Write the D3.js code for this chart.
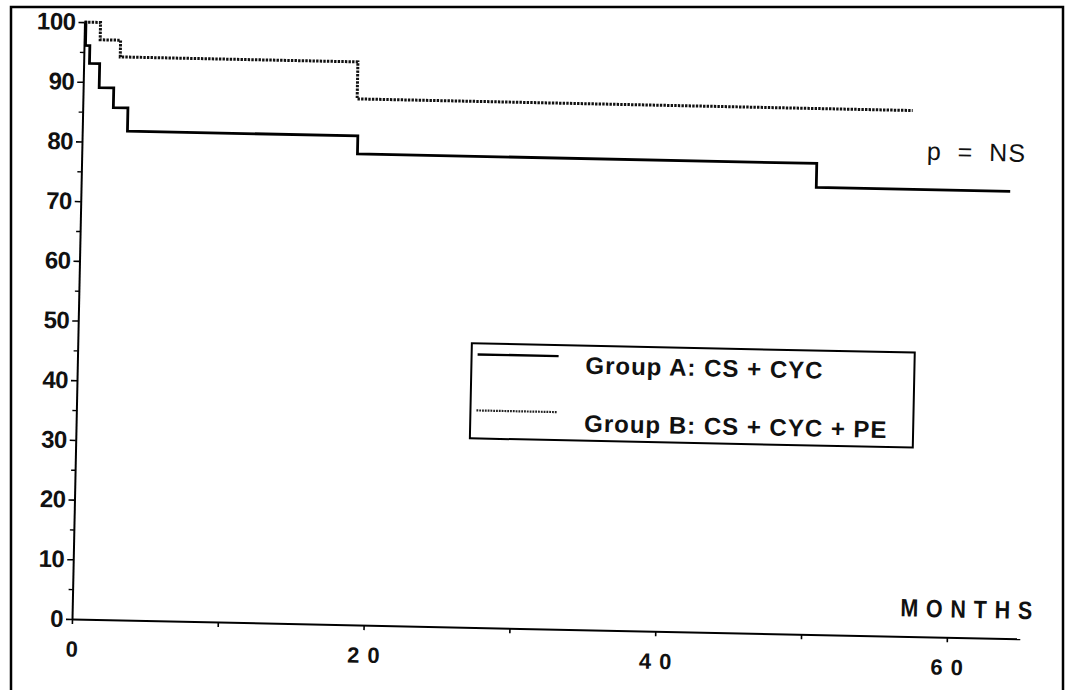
<!DOCTYPE html>
<html>
<head>
<meta charset="utf-8">
<script src="https://cdn.jsdelivr.net/npm/d3@7/dist/d3.min.js"></script>
<style>
  html, body { margin: 0; padding: 0; background: #fff; }
  svg { display: block; font-family: "Liberation Sans", Arial, sans-serif; }
</style>
</head>
<body>
<svg id="chart" width="1068" height="690"></svg>
<script>
// Kaplan-Meier survival estimates (months, % surviving)
const groupATime = [0, 0.1, 0.4, 1.1, 2.1, 3.1, 18.9, 50.4, 63.7];
const groupASurv = [100, 96.1, 93.1, 89.1, 85.8, 81.9, 78.9, 74.9, 74.9];
const groupBTime = [0, 1.1, 2.5, 18.8, 56.9];
const groupBSurv = [100, 97.1, 94.3, 88.1, 88.1];

const seriesNames = ["Group A: CS + CYC", "Group B: CS + CYC + PE"];
const xTickValues = [0, 10, 20, 30, 40, 50, 60];
const xLabelled = [0, 20, 40, 60];
const yTickValues = [0, 10, 20, 30, 40, 50, 60, 70, 80, 90, 100];
const yMinorTicks = [5, 15, 25, 35, 45, 55, 65, 75, 85, 95];
const xTitle = "MONTHS";
const pText = "p  =  NS";

const svg = d3.select("#chart");

// page frame
svg.append("rect")
  .attr("x", 11).attr("y", 7)
  .attr("width", 1052).attr("height", 700)
  .attr("fill", "none").attr("stroke", "#000").attr("stroke-width", 2.5);

const origin = { x: 72, y: 619 };
const x = d3.scaleLinear().domain([0, 65]).range([origin.x, 1020]);
const y = d3.scaleLinear().domain([0, 100]).range([origin.y, 22]);

// the printed figure sits slightly tilted on the page
const g = svg.append("g")
  .attr("transform", `rotate(1.2, ${origin.x}, ${origin.y})`);

// x axis
const xAxis = g.append("g")
  .attr("transform", `translate(0,${origin.y})`)
  .call(d3.axisBottom(x)
    .tickValues(xTickValues)
    .tickSize(5)
    .tickSizeOuter(0)
    .tickPadding(17)
    .tickFormat(d => xLabelled.includes(d) ? String(d) : ""));
xAxis.select(".domain").attr("stroke-width", 2);
xAxis.selectAll(".tick line").attr("stroke-width", 1.6);
xAxis.selectAll(".tick text")
  .attr("font-size", 22).attr("font-weight", "bold")
  .attr("fill", "#111")
  .style("letter-spacing", "8px")
  .attr("dx", 4);

// y axis, major and minor ticks
const yAxis = g.append("g")
  .attr("transform", `translate(${origin.x},0)`)
  .call(d3.axisLeft(y)
    .tickValues(yTickValues)
    .tickSize(6)
    .tickSizeOuter(0)
    .tickPadding(3)
    .tickFormat(d3.format("d")));
yAxis.select(".domain").attr("stroke-width", 2);
yAxis.selectAll(".tick line").attr("stroke-width", 1.6);
yAxis.selectAll(".tick text")
  .attr("font-size", 24).attr("font-weight", "bold")
  .attr("fill", "#111")
  .style("letter-spacing", "-0.5px");

g.append("g")
  .attr("transform", `translate(${origin.x},0)`)
  .call(d3.axisLeft(y).tickValues(yMinorTicks).tickSize(4).tickFormat(""))
  .call(a => a.select(".domain").remove())
  .selectAll(".tick line").attr("stroke-width", 1.4);

// survival curves
const line = d3.line()
  .x(d => x(d[0]))
  .y(d => y(d[1]))
  .curve(d3.curveStepAfter);

const groupA = groupATime.map((t, i) => [t, groupASurv[i]]);
const groupB = groupBTime.map((t, i) => [t, groupBSurv[i]]);

g.append("path")
  .datum(groupB)
  .attr("d", line)
  .attr("fill", "none")
  .attr("stroke", "#111")
  .attr("stroke-width", 3)
  .attr("stroke-dasharray", "2.4,1.2");

g.append("path")
  .datum(groupA)
  .attr("d", line)
  .attr("fill", "none")
  .attr("stroke", "#000")
  .attr("stroke-width", 2.8)
  .attr("stroke-linejoin", "miter");

// x axis title, narrow bold lettering
g.append("text")
  .attr("transform", "translate(900,599) scale(0.86,1)")
  .attr("font-size", 25).attr("font-weight", "bold")
  .attr("fill", "#111")
  .style("letter-spacing", "9px")
  .text(xTitle);

// p-value note
g.append("text")
  .attr("x", 917).attr("y", 142)
  .attr("font-size", 25)
  .attr("fill", "#111")
  .attr("xml:space", "preserve")
  .style("white-space", "pre")
  .style("letter-spacing", "1px")
  .text(pText);

// legend
const legend = g.append("g").attr("transform", "translate(466,335)");
legend.append("rect")
  .attr("width", 443).attr("height", 95)
  .attr("fill", "#fff").attr("stroke", "#000").attr("stroke-width", 2);

const legendStyles = [
  { stroke: "#000", width: 2.4, dash: null },
  { stroke: "#222", width: 2.2, dash: "1.8,1" }
];
seriesNames.forEach((name, i) => {
  const row = legend.append("g").attr("transform", `translate(0,${11 + i * 56})`);
  row.append("line")
    .attr("x1", 6).attr("x2", 87)
    .attr("y1", 0).attr("y2", 0)
    .attr("stroke", legendStyles[i].stroke)
    .attr("stroke-width", legendStyles[i].width)
    .attr("stroke-dasharray", legendStyles[i].dash);
  row.append("text")
    .attr("x", 114).attr("y", 17 + i * 2)
    .attr("font-size", 24).attr("font-weight", "bold")
    .attr("fill", "#111")
    .style("letter-spacing", "1px")
    .text(name);
});
</script>
</body>
</html>
